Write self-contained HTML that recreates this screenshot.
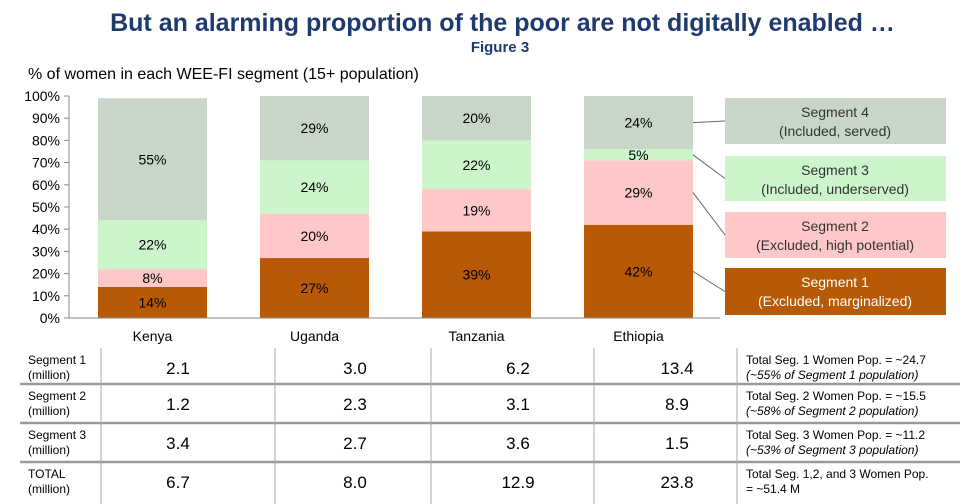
<!DOCTYPE html>
<html><head><meta charset="utf-8"><style>
body{margin:0;width:977px;height:504px;background:#fff;font-family:"Liberation Sans",sans-serif;overflow:hidden;position:relative}
.t{position:absolute;white-space:nowrap}
</style></head><body>
<div class="t" style="left:0;width:1005px;text-align:center;top:9px;font-size:25px;font-weight:bold;color:#1f3a6e">But an alarming proportion of the poor are not digitally enabled …</div>
<div class="t" style="left:0;width:1000px;text-align:center;top:39px;font-size:15px;font-weight:bold;color:#1f3a6e">Figure 3</div>
<div class="t" style="left:28px;top:66px;font-size:16px;color:#000">% of women in each WEE-FI segment (15+ population)</div>
<svg id="chart" width="977" height="504" style="position:absolute;left:0;top:0"></svg>
<script>
const categories=["Kenya","Uganda","Tanzania","Ethiopia"];
const seg1=[14,27,39,42];
const seg2=[8,20,19,29];
const seg3=[22,24,22,5];
const seg4=[55,29,20,24];
const yTicks=[0,10,20,30,40,50,60,70,80,90,100];
const segNames=["Segment 1","Segment 2","Segment 3","Segment 4"];
const segSubs=["(Excluded,  marginalized)","(Excluded,  high potential)","(Included,  underserved)","(Included,  served)"];
const tableRows=["Segment 1","Segment 2","Segment 3","TOTAL"];
const tableVals=[[2.1,3.0,6.2,13.4],[1.2,2.3,3.1,8.9],[3.4,2.7,3.6,1.5],[6.7,8.0,12.9,23.8]];
const tableNotes=[["Total Seg. 1 Women Pop. = ~24.7","(~55% of  Segment 1 population)"],["Total Seg. 2 Women Pop. = ~15.5","(~58% of Segment 2 population)"],["Total Seg. 3 Women Pop. = ~11.2","(~53% of Segment 3 population)"],["Total Seg. 1,2, and 3 Women Pop.","= ~51.4 M"]];
const colors=["#b85a05","#ffc8c8","#ccf5cc","#c8d6c8"];
const svg=document.getElementById('chart');const NS="http://www.w3.org/2000/svg";
function mk(t,a,txt){const e=document.createElementNS(NS,t);for(const k in a)e.setAttribute(k,a[k]);if(txt!==undefined)e.textContent=txt;svg.appendChild(e);return e;}
const y0=318,y1=96;
function y(v){return y0-(v/100)*(y0-y1);}
function x(i){return 98+i*162;}
const bw=109;
yTicks.forEach(t=>{
 const tk=mk('line',{x1:64,x2:69,y1:y(t),y2:y(t),stroke:'#888'});
 
 
 const lb=mk('text',{x:60,y:y(t)+5,'text-anchor':'end','font-size':14,'font-family':'Liberation Sans'},t+'%');
 
 
});
const ax=mk('line',{x1:69,x2:69,y1:y1,y2:y0,stroke:'#888'});


const segs=[seg1,seg2,seg3,seg4];
categories.forEach((c,i)=>{
 let cum=0;
 segs.forEach((s,k)=>{
  const v=s[i];
  const r=mk('rect',{x:x(i),y:y(cum+v),width:bw,height:y(cum)-y(cum+v),fill:colors[k]});
  
  
  const l=mk('text',{x:x(i)+bw/2,y:(y(cum)+y(cum+v))/2+5,'text-anchor':'middle','font-size':14,'font-family':'Liberation Sans'},v+'%');
  
  
  cum+=v;
 });
 const cl=mk('text',{x:x(i)+bw/2,y:341,'text-anchor':'middle','font-size':14,'font-family':'Liberation Sans'},c);
 
 
});
const bl=mk('line',{x1:69,x2:720,y1:y0,y2:y0,stroke:'#888'});


const legY=[268,212,156,98];
const legH=[47,46,45,46];
for(let k=0;k<4;k++){
 const r=mk('rect',{x:725,y:legY[k],width:221,height:legH[k],fill:colors[k]});
 
 
 const tc=k==0?'#fff':'#333';
 const a=mk('text',{x:835,y:legY[k]+19,'text-anchor':'middle','font-size':14,fill:tc,'font-family':'Liberation Sans'},segNames[k]);
 
 
 const b=mk('text',{x:835,y:legY[k]+38,'text-anchor':'middle','font-size':14,fill:tc,'font-family':'Liberation Sans'},segSubs[k]);
 
 
 let cum=0;for(let j=0;j<k;j++)cum+=segs[j][3];
 const mid=y(cum+segs[k][3]/2);
 const ln=mk('line',{x1:x(3)+bw,y1:mid,x2:725,y2:legY[k]+legH[k]/2,stroke:'#666'});
 
 
}
const rowY=[348,384,423,462,502];
const colX=[101,275,431,594,737];
const valX=[178,355,518,677];
for(let r=0;r<4;r++){
 if(r>0){const sl=mk('line',{x1:20,x2:960,y1:rowY[r],y2:rowY[r],stroke:'#999','stroke-width':2.5});
  
  }
 const t1=mk('text',{x:28,y:rowY[r]+16,'font-size':12,'font-family':'Liberation Sans'},tableRows[r]);
 
 
 const t2=mk('text',{x:28,y:rowY[r]+31,'font-size':12,'font-family':'Liberation Sans'},'(million)');
 
 
 tableVals[r].forEach((v,c)=>{
  const tv=mk('text',{x:valX[c],y:rowY[r]+26,'text-anchor':'middle','font-size':17,'font-family':'Liberation Sans'},v.toFixed(1));
  
  
 });
 const n1=mk('text',{x:746,y:rowY[r]+16,'font-size':12,'font-family':'Liberation Sans'},tableNotes[r][0]);
 
 
 const n2=mk('text',{x:746,y:rowY[r]+31,'font-size':12,'font-style':r<3?'italic':'normal','font-family':'Liberation Sans'},tableNotes[r][1]);
 
 
}
colX.forEach(cx=>{
 const vl=mk('line',{x1:cx,x2:cx,y1:348,y2:504,stroke:'#aaa'});
 
 
});
</script>
</body></html>
